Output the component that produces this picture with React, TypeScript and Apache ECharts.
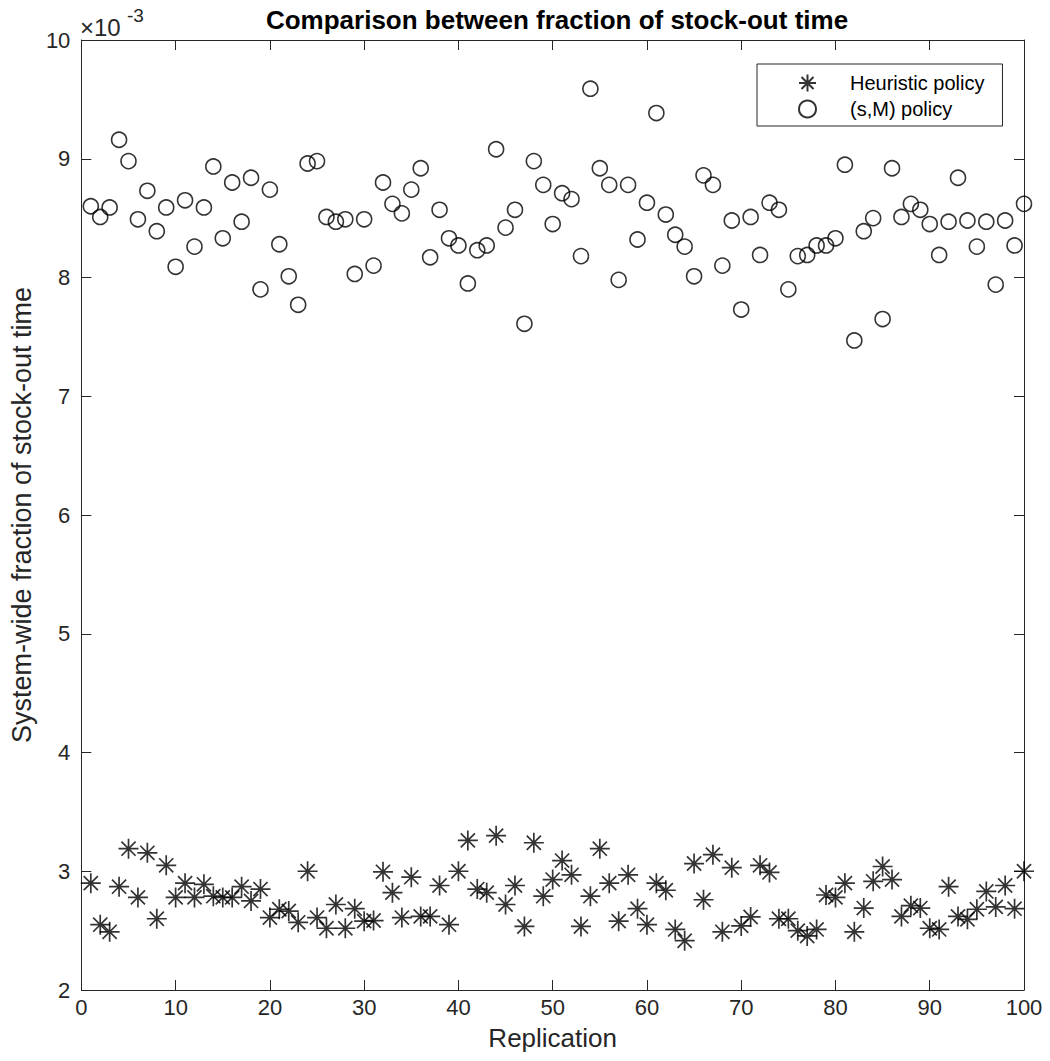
import React, { useEffect, useRef } from "react";
import * as echarts from "echarts";

// Values are in units of 1e-3 (axis shows "×10^-3")
const heuristicPolicy: number[] = [
  2.90, 2.55, 2.49, 2.87, 3.19, 2.78, 3.155, 2.60, 3.05, 2.78,
  2.90, 2.78, 2.89, 2.79, 2.78, 2.78, 2.87, 2.75, 2.85, 2.61,
  2.68, 2.665, 2.57, 3.00, 2.61, 2.52, 2.72, 2.52, 2.685, 2.58,
  2.585, 2.995, 2.82, 2.61, 2.95, 2.62, 2.62, 2.88, 2.55, 3.00,
  3.26, 2.85, 2.82, 3.30, 2.72, 2.88, 2.535, 3.24, 2.79, 2.93,
  3.09, 2.97, 2.535, 2.79, 3.19, 2.90, 2.58, 2.97, 2.685, 2.55,
  2.90, 2.84, 2.51, 2.415, 3.065, 2.76, 3.14, 2.49, 3.03, 2.54,
  2.615, 3.05, 2.99, 2.60, 2.60, 2.50, 2.455, 2.51, 2.80, 2.78,
  2.90, 2.49, 2.69, 2.915, 3.04, 2.93, 2.62, 2.71, 2.69, 2.52,
  2.51, 2.87, 2.62, 2.595, 2.68, 2.83, 2.70, 2.88, 2.685, 3.00,
];

const sMPolicy: number[] = [
  8.60, 8.51, 8.59, 9.16, 8.98, 8.49, 8.73, 8.39, 8.59, 8.09,
  8.65, 8.26, 8.59, 8.935, 8.33, 8.80, 8.47, 8.84, 7.90, 8.74,
  8.28, 8.01, 7.77, 8.96, 8.98, 8.51, 8.47, 8.49, 8.03, 8.49,
  8.10, 8.80, 8.62, 8.54, 8.74, 8.92, 8.17, 8.57, 8.33, 8.27,
  7.95, 8.23, 8.27, 9.08, 8.42, 8.57, 7.61, 8.98, 8.78, 8.45,
  8.71, 8.66, 8.18, 9.59, 8.92, 8.78, 7.98, 8.78, 8.32, 8.63,
  9.385, 8.53, 8.36, 8.26, 8.01, 8.86, 8.78, 8.10, 8.48, 7.73,
  8.51, 8.19, 8.63, 8.57, 7.90, 8.18, 8.19, 8.27, 8.27, 8.33,
  8.95, 7.47, 8.39, 8.50, 7.65, 8.92, 8.51, 8.62, 8.57, 8.45,
  8.19, 8.47, 8.84, 8.48, 8.26, 8.47, 7.94, 8.48, 8.27, 8.62,
];

const seriesNames = ["Heuristic policy", "(s,M) policy"];
const titleText = "Comparison between fraction of stock-out time";
const xAxisName = "Replication";
const yAxisName = "System-wide fraction of stock-out time";

const FONT = "'Liberation Sans', Arial, Helvetica, sans-serif";
const AX = "#262626";
const STAR =
  "path://M0,-8L0,8M-8,0L8,0M-5.66,-5.66L5.66,5.66M-5.66,5.66L5.66,-5.66";

export default function App() {
  const ref = useRef<HTMLDivElement>(null);
  useEffect(() => {
    if (!ref.current) return;
    const chart = echarts.init(ref.current, undefined, { renderer: "svg" });
    const toPairs = (arr: number[]) => arr.map((v, i) => [i + 1, v]);
    const axisCommon = {
      axisLine: { show: true, onZero: false, lineStyle: { color: AX, width: 1 } },
      axisTick: { show: true, inside: true, length: 10, lineStyle: { color: AX, width: 1 } },
      splitLine: { show: false },
    };
    chart.setOption({
      animation: false,
      backgroundColor: "#ffffff",
      title: {
        text: titleText,
        left: 552,
        textAlign: "center",
        top: 2,
        textStyle: { fontFamily: FONT, fontSize: 26, fontWeight: "bold", color: "#000" },
      },
      grid: { left: 80, right: 26, top: 40, bottom: 71, containLabel: false },
      legend: {
        orient: "vertical",
        left: 757,
        top: 64,
        padding: [9, 18, 7, 41],
        itemGap: 6,
        itemWidth: 17,
        itemHeight: 17,
        borderColor: AX,
        borderWidth: 1,
        backgroundColor: "#fff",
        textStyle: { fontFamily: FONT, fontSize: 20, color: "#000", lineHeight: 20, padding: [0, 0, 0, 29] },
        data: seriesNames,
      },
      xAxis: [
        {
          type: "value",
          min: 0,
          max: 100,
          interval: 10,
          position: "bottom",
          name: xAxisName,
          nameLocation: "middle",
          nameGap: 35,
          nameTextStyle: { fontFamily: FONT, fontSize: 26, color: AX },
          axisLabel: { fontFamily: FONT, fontSize: 22, color: AX, margin: 6 },
          ...axisCommon,
        },
        {
          type: "value",
          min: 0,
          max: 100,
          interval: 10,
          position: "top",
          axisLabel: { show: false },
          ...axisCommon,
        },
      ],
      yAxis: [
        {
          type: "value",
          min: 2,
          max: 10,
          interval: 1,
          position: "left",
          name: yAxisName,
          nameLocation: "middle",
          nameGap: 44,
          nameTextStyle: { fontFamily: FONT, fontSize: 27, color: AX },
          axisLabel: { fontFamily: FONT, fontSize: 22, color: AX, margin: 11 },
          ...axisCommon,
        },
        {
          type: "value",
          min: 2,
          max: 10,
          interval: 1,
          position: "right",
          axisLabel: { show: false },
          ...axisCommon,
        },
      ],
      graphic: [
        {
          type: "text",
          left: 80,
          top: 15,
          style: { text: "×10", fontFamily: FONT, fontSize: 24, fill: AX },
        },
        {
          type: "text",
          left: 127,
          top: 6,
          style: { text: "-3", fontFamily: FONT, fontSize: 19, fill: AX },
        },
      ],
      series: [
        {
          name: seriesNames[0],
          type: "scatter",
          xAxisIndex: 0,
          yAxisIndex: 0,
          symbol: STAR,
          symbolSize: 20,
          itemStyle: { color: "rgba(0,0,0,0)", borderColor: "#000", borderWidth: 1.7 },
          data: toPairs(heuristicPolicy),
        },
        {
          name: seriesNames[1],
          type: "scatter",
          xAxisIndex: 0,
          yAxisIndex: 0,
          symbol: "circle",
          symbolSize: 15,
          itemStyle: { color: "rgba(0,0,0,0)", borderColor: "#000", borderWidth: 1.6 },
          data: toPairs(sMPolicy),
        },
      ],
    });
    return () => chart.dispose();
  }, []);
  return (
    <div
      ref={ref}
      style={{ position: "absolute", left: 0, top: 0, width: 1050, height: 1061, background: "#fff" }}
    />
  );
}
